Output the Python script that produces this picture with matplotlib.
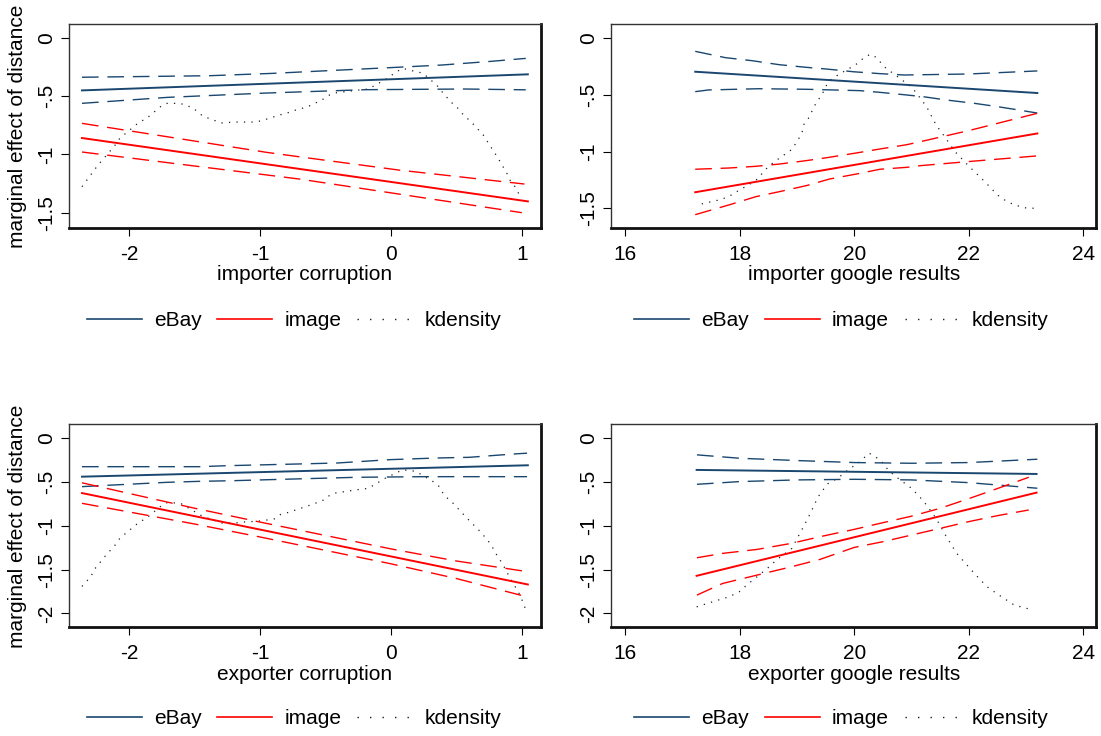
import matplotlib
matplotlib.use('Agg')
from matplotlib import pyplot as plt
from matplotlib.lines import Line2D

plt.rc('font', family=['Liberation Sans', 'DejaVu Sans'], size=15)

EBAY = '#1a476f'
IMAGE = '#ff0000'
KDEN = '#1e1e1e'

# ---- importer corruption ----
ic_x = [-2.36, 1.046]
ic_ebay = [-0.450, -0.312]
ic_ebay_hi_x = [-2.36, -1.39, -0.91, 0.04, 0.39, 0.77, 1.03]
ic_ebay_hi = [-0.337, -0.324, -0.304, -0.252, -0.232, -0.200, -0.175]
ic_ebay_lo_x = [-2.36, -1.71, -0.96, -0.20, 0.56, 1.03]
ic_ebay_lo = [-0.561, -0.510, -0.473, -0.444, -0.438, -0.445]
ic_img = [-0.859, -1.403]
ic_img_hi_x = [-2.36, -0.95, -0.70, 0.06, 1.02]
ic_img_hi = [-0.733, -0.982, -1.020, -1.134, -1.254]
ic_img_lo_x = [-2.36, -0.70, 0.06, 1.00]
ic_img_lo = [-0.979, -1.211, -1.340, -1.500]
ic_kd_x = [-2.36, -2.27, -2.238, -2.171, -2.105, -2.075, -2.039, -1.998, -1.919, -1.873,
           -1.754, -1.71, -1.611, -1.514, -1.438, -1.296, -1.196, -1.14, -1.041, -0.987,
           -0.845, -0.801, -0.704, -0.649, -0.603, -0.516, -0.47, -0.427, -0.272, -0.173,
           -0.04, 0.044, 0.09, 0.19, 0.243, 0.319, 0.355, 0.39, 0.421, 0.454,
           0.497, 0.561, 0.604, 0.704, 0.816, 0.892, 0.912, 0.948, 0.971, 0.992]
ic_kd = [-1.277, -1.14, -1.091, -1.005, -0.917, -0.868, -0.831, -0.793, -0.719, -0.696,
         -0.584, -0.561, -0.561, -0.599, -0.67, -0.73, -0.722, -0.722, -0.722, -0.71,
         -0.659, -0.647, -0.61, -0.596, -0.573, -0.524, -0.49, -0.472, -0.45, -0.438,
         -0.355, -0.289, -0.261, -0.289, -0.301, -0.375, -0.412, -0.461, -0.501, -0.547,
         -0.584, -0.67, -0.71, -0.831, -1.028, -1.174, -1.226, -1.277, -1.326, -1.377]

# ---- importer google results ----
ig_x = [17.22, 23.2]
ig_ebay = [-0.295, -0.483]
ig_ebay_hi_x = [17.22, 17.75, 18.22, 18.69, 19.16, 19.51, 19.98, 20.45, 20.87, 22.0, 23.2]
ig_ebay_hi = [-0.115, -0.171, -0.198, -0.233, -0.256, -0.271, -0.295, -0.312, -0.324, -0.315, -0.288]
ig_ebay_lo_x = [17.22, 17.45, 18.33, 19.16, 20.1, 20.45, 20.87, 21.2, 21.6, 22.1, 22.5, 22.9, 23.2]
ig_ebay_lo = [-0.471, -0.456, -0.445, -0.45, -0.462, -0.477, -0.498, -0.515, -0.544, -0.574, -0.603, -0.635, -0.66]
ig_img = [-1.359, -0.840]
ig_img_hi_x = [17.22, 17.81, 18.28, 18.69, 19.16, 19.57, 20.04, 20.45, 20.92, 21.16, 22.0, 23.2]
ig_img_hi = [-1.156, -1.145, -1.13, -1.11, -1.08, -1.05, -1.012, -0.977, -0.939, -0.912, -0.815, -0.662]
ig_img_lo_x = [17.22, 17.81, 18.28, 18.69, 19.16, 19.57, 20.04, 20.45, 20.92, 21.16, 22.0, 23.2]
ig_img_lo = [-1.557, -1.471, -1.398, -1.354, -1.301, -1.242, -1.198, -1.156, -1.139, -1.124, -1.088, -1.038]
ig_kd_x = [17.335, 17.559, 17.688, 17.894, 17.995, 18.1, 18.206, 18.3, 18.453, 18.535,
           18.63, 18.912, 19.036, 19.089, 19.117, 19.188, 19.241, 19.294, 19.341, 19.424,
           19.518, 19.6, 19.9, 20.0, 20.176, 20.282, 20.382, 20.535, 20.806, 20.982,
           21.07, 21.27, 21.43, 21.58, 21.76, 22.01, 22.28, 22.5, 22.65, 22.8,
           23.02, 23.14]
ig_kd = [-1.462, -1.436, -1.421, -1.374, -1.336, -1.31, -1.277, -1.245, -1.156, -1.118,
         -1.08, -0.98, -0.88, -0.827, -0.762, -0.718, -0.662, -0.612, -0.559, -0.509,
         -0.412, -0.359, -0.268, -0.244, -0.168, -0.141, -0.168, -0.256, -0.357, -0.424,
         -0.471, -0.609, -0.765, -0.868, -1.0, -1.132, -1.265, -1.382, -1.435, -1.471,
         -1.5, -1.5]

# ---- exporter corruption ----
ec_x = [-2.36, 1.046]
ec_ebay = [-0.439, -0.309]
ec_ebay_hi_x = [-2.36, -1.46, -1.26, -0.73, -0.41, -0.01, 0.35, 0.6, 0.76, 0.94, 1.04]
ec_ebay_hi = [-0.325, -0.325, -0.314, -0.295, -0.283, -0.245, -0.226, -0.218, -0.2, -0.18, -0.171]
ec_ebay_lo_x = [-2.36, -2.23, -1.97, -1.72, -1.46, -1.21, -0.95, -0.26, 0.25, 1.04]
ec_ebay_lo = [-0.553, -0.542, -0.523, -0.504, -0.492, -0.485, -0.474, -0.446, -0.439, -0.439]
ec_img = [-0.626, -1.669]
ec_img_hi_x = [-2.36, -1.5, -1.0, 0.0, 0.5, 1.04]
ec_img_hi = [-0.509, -0.799, -0.957, -1.263, -1.401, -1.522]
ec_img_lo_x = [-2.36, -1.5, -1.0, 0.0, 0.5, 1.04]
ec_img_lo = [-0.743, -0.979, -1.127, -1.433, -1.601, -1.81]
ec_kd_x = [-2.36, -2.291, -2.27, -2.174, -2.105, -2.075, -2.039, -1.998, -1.919, -1.873,
           -1.833, -1.754, -1.71, -1.611, -1.438, -1.29, -1.189, -1.138, -1.036, -0.985,
           -0.885, -0.842, -0.799, -0.7, -0.6, -0.513, -0.468, -0.425, -0.272, -0.173,
           -0.04, 0.09, 0.19, 0.319, 0.365, 0.39, 0.421, 0.464, 0.564, 0.597,
           0.673, 0.74, 0.772, 0.795, 0.818, 0.851, 0.872, 0.897, 0.923, 0.948,
           0.99, 1.033]
ec_kd = [-1.691, -1.577, -1.505, -1.33, -1.216, -1.151, -1.102, -1.051, -0.953, -0.919,
         -0.869, -0.771, -0.736, -0.74, -0.892, -0.968, -0.968, -0.957, -0.949, -0.942,
         -0.919, -0.869, -0.854, -0.805, -0.755, -0.705, -0.652, -0.626, -0.591, -0.572,
         -0.454, -0.36, -0.378, -0.492, -0.546, -0.611, -0.671, -0.725, -0.885, -0.937,
         -1.051, -1.166, -1.234, -1.296, -1.36, -1.425, -1.49, -1.558, -1.627, -1.691,
         -1.80, -1.97]

# ---- exporter google results ----
eg_x = [17.245, 23.186]
eg_ebay = [-0.362, -0.408]
eg_ebay_hi_x = [17.25, 18.0, 19.0, 20.0, 21.0, 22.0, 23.2]
eg_ebay_hi = [-0.19, -0.229, -0.255, -0.278, -0.286, -0.278, -0.24]
eg_ebay_lo_x = [17.25, 18.0, 19.0, 20.0, 21.0, 22.0, 23.2]
eg_ebay_lo = [-0.526, -0.495, -0.476, -0.469, -0.476, -0.507, -0.571]
eg_img = [-1.57, -0.621]
eg_img_hi_x = [17.25, 17.7, 18.3, 18.9, 19.4, 20.0, 20.5, 21.0, 21.5, 22.0, 22.5, 23.05]
eg_img_hi = [-1.364, -1.314, -1.269, -1.2, -1.124, -1.04, -0.964, -0.89, -0.80, -0.69, -0.575, -0.446]
eg_img_lo_x = [17.25, 17.7, 18.3, 18.9, 19.4, 20.0, 20.5, 21.0, 21.5, 22.0, 22.5, 23.05]
eg_img_lo = [-1.79, -1.657, -1.562, -1.467, -1.383, -1.246, -1.181, -1.105, -1.029, -0.952, -0.884, -0.819]
eg_kd_x = [17.245, 17.56, 17.81, 17.99, 18.12, 18.3, 18.48, 18.64, 18.91, 19.19,
           19.37, 19.53, 19.71, 19.89, 20.08, 20.26, 20.38, 20.48, 20.6, 20.78,
           21.0, 21.21, 21.43, 21.61, 21.79, 22.1, 22.32, 22.53, 22.8, 23.02, 23.14]
eg_kd = [-1.924, -1.859, -1.81, -1.752, -1.676, -1.581, -1.486, -1.39, -1.257, -0.914,
         -0.667, -0.522, -0.457, -0.362, -0.278, -0.171, -0.217, -0.267, -0.37, -0.465,
         -0.571, -0.716, -0.914, -1.124, -1.314, -1.543, -1.695, -1.79, -1.905, -1.943, -1.943]

corr_ticks = [-2, -1, 0, 1]
goog_ticks = [16, 18, 20, 22, 24]
y_ticks_top = [-1.5, -1, -0.5, 0]
y_ticks_bot = [-2, -1.5, -1, -0.5, 0]
y_labels_top = ['-1.5', '-1', '-.5', '0']
y_labels_bot = ['-2', '-1.5', '-1', '-.5', '0']

DASH = (0, (12, 6.3))
DOTS = (0, (1, 5))

fig = plt.figure(figsize=(11.01, 7.36), dpi=100)

def panel(rect, xlab, xl, yl, xt, yt, ytl, lines, kd):
    ax = fig.add_axes(rect)
    (x, eb, ebhx, ebh, eblx, ebl, im, imhx, imh, imlx, iml) = lines
    ax.plot(kd[0], kd[1], color=KDEN, lw=0.9, ls=DOTS)
    ax.plot(ebhx, ebh, color=EBAY, lw=1.0, ls=DASH)
    ax.plot(eblx, ebl, color=EBAY, lw=1.0, ls=DASH)
    ax.plot(x, eb, color=EBAY, lw=1.4)
    ax.plot(imhx, imh, color=IMAGE, lw=1.0, ls=DASH)
    ax.plot(imlx, iml, color=IMAGE, lw=1.0, ls=DASH)
    ax.plot(x, im, color=IMAGE, lw=1.4)
    ax.set_xlim(xl)
    ax.set_ylim(yl)
    ax.set_xticks(xt)
    ax.set_xticklabels([str(t) for t in xt])
    ax.set_yticks(yt)
    ax.set_yticklabels(ytl, rotation=90, va='center')
    ax.tick_params(axis='x', direction='out', length=5.5, width=0.8, pad=7, labelsize=15)
    ax.tick_params(axis='y', direction='out', length=5.5, width=0.8, pad=4, labelsize=15)
    for s in ['left', 'top']:
        ax.spines[s].set_linewidth(1.0)
        ax.spines[s].set_color('#333333')
    for s in ['bottom', 'right']:
        ax.spines[s].set_linewidth(2.0)
        ax.spines[s].set_color('#111111')
    ax.set_xlabel(xlab, fontsize=15, labelpad=1)
    return ax

panel([0.06294, 0.69063, 0.42815, 0.27609], 'importer corruption',
      (-2.457, 1.144), (-1.629, 0.116), corr_ticks, y_ticks_top, y_labels_top,
      (ic_x, ic_ebay, ic_ebay_hi_x, ic_ebay_hi, ic_ebay_lo_x, ic_ebay_lo,
       ic_img, ic_img_hi_x, ic_img_hi, ic_img_lo_x, ic_img_lo), (ic_kd_x, ic_kd))
panel([0.55531, 0.69063, 0.44060, 0.27609], 'importer google results',
      (15.755, 24.234), (-1.672, 0.122), goog_ticks, y_ticks_top, y_labels_top,
      (ig_x, ig_ebay, ig_ebay_hi_x, ig_ebay_hi, ig_ebay_lo_x, ig_ebay_lo,
       ig_img, ig_img_hi_x, ig_img_hi, ig_img_lo_x, ig_img_lo), (ig_kd_x, ig_kd))
panel([0.06294, 0.14810, 0.42815, 0.27582], 'exporter corruption',
      (-2.457, 1.144), (-2.154, 0.162), corr_ticks, y_ticks_bot, y_labels_bot,
      (ec_x, ec_ebay, ec_ebay_hi_x, ec_ebay_hi, ec_ebay_lo_x, ec_ebay_lo,
       ec_img, ec_img_hi_x, ec_img_hi, ec_img_lo_x, ec_img_lo), (ec_kd_x, ec_kd))
panel([0.55531, 0.14810, 0.44060, 0.27582], 'exporter google results',
      (15.755, 24.234), (-2.154, 0.162), goog_ticks, y_ticks_bot, y_labels_bot,
      (eg_x, eg_ebay, eg_ebay_hi_x, eg_ebay_hi, eg_ebay_lo_x, eg_ebay_lo,
       eg_img, eg_img_hi_x, eg_img_hi, eg_img_lo_x, eg_img_lo), (eg_kd_x, eg_kd))

for yc in [1 - 126 / 736, 1 - 526 / 736]:
    fig.text(18 / 1101, yc, 'marginal effect of distance', rotation=90,
             ha='center', va='center', fontsize=15)

handles = [Line2D([], [], color=EBAY, lw=1.2),
           Line2D([], [], color=IMAGE, lw=1.2),
           Line2D([], [], color=KDEN, lw=1.0, ls=(0, (1, 8)))]
names = ['eBay', 'image', 'kdensity']
for cx in [293.9 / 1101, 841.5 / 1101]:
    for cy in [1 - 320.7 / 736, 1 - 718.7 / 736]:
        fig.legend(handles, names, loc='center', bbox_to_anchor=(cx, cy),
                   bbox_transform=fig.transFigure, ncol=3, frameon=False,
                   handlelength=2.64, handletextpad=0.59, columnspacing=0.75,
                   fontsize=15, borderpad=0, borderaxespad=0)

plt.savefig('out.png', dpi=100)
